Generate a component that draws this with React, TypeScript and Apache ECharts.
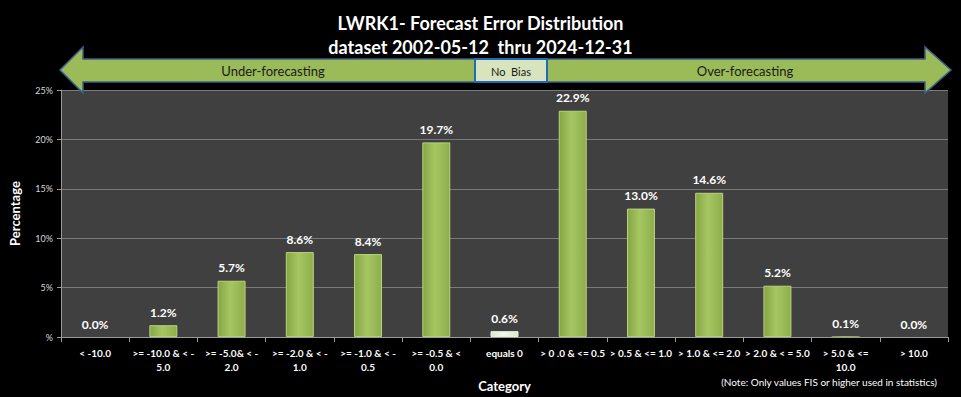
import React, { useEffect, useRef } from "react";
import * as echarts from "echarts";

const titleLines = ["LWRK1- Forecast Error Distribution", "dataset 2002-05-12  thru 2024-12-31"];
const categories = [
  "< -10.0",
  ">= -10.0 & < -\n5.0",
  ">= -5.0& < -\n2.0",
  ">= -2.0 & < -\n1.0",
  ">= -1.0 & < -\n0.5",
  ">= -0.5 & <\n0.0",
  "equals 0",
  "> 0 .0 & <= 0.5",
  "> 0.5 & <= 1.0",
  "> 1.0 & <= 2.0",
  "> 2.0 & < = 5.0",
  "> 5.0 & <=\n10.0",
  "> 10.0",
];
const percentages = [0.0, 1.2, 5.7, 8.6, 8.4, 19.7, 0.6, 22.9, 13.0, 14.6, 5.2, 0.1, 0.0];
const highlightCategory = "equals 0";
const arrowLabels = ["Under-forecasting", "No  Bias", "Over-forecasting"];
const noteText = "(Note: Only values FIS or higher used in statistics)";

const FONT = "Lato, 'Open Sans', sans-serif";

export default function App() {
  const ref = useRef<HTMLDivElement>(null);
  useEffect(() => {
    document.body.style.margin = "0";
    document.body.style.background = "#000";
    const chart = echarts.init(ref.current!, null, { renderer: "svg" });
    const green = new echarts.graphic.LinearGradient(0, 0, 1, 0, [
      { offset: 0, color: "#86a543" },
      { offset: 0.45, color: "#a6c662" },
      { offset: 1, color: "#8eae4c" },
    ]);
    const pale = new echarts.graphic.LinearGradient(0, 0, 1, 0, [
      { offset: 0, color: "#d9e3c6" },
      { offset: 0.45, color: "#f4f8ec" },
      { offset: 1, color: "#dce6ca" },
    ]);
    chart.setOption({
      animation: false,
      backgroundColor: "#000",
      title: {
        text: titleLines.join("\n"),
        left: "center",
        top: 11,
        padding: 0,
        textStyle: { color: "#fff", fontSize: 18, fontWeight: "bold", fontFamily: FONT, lineHeight: 24 },
      },
      grid: { left: 60, right: 13, top: 90, bottom: 56, backgroundColor: "#404040", show: true, borderWidth: 0 },
      xAxis: {
        type: "category",
        data: categories,
        name: "Category",
        nameLocation: "middle",
        nameGap: 39,
        nameTextStyle: { color: "#fff", fontSize: 13, fontWeight: "bold", fontFamily: FONT },
        axisLine: { lineStyle: { color: "#9a9a9a" } },
        axisTick: { show: true, length: 5, lineStyle: { color: "#9a9a9a" } },
        axisLabel: {
          color: "#fff",
          fontSize: 10,
          fontWeight: "bold",
          fontFamily: FONT,
          interval: 0,
          lineHeight: 14,
          margin: 9,
        },
      },
      yAxis: {
        type: "value",
        min: 0,
        max: 25,
        interval: 5,
        name: "Percentage",
        nameLocation: "middle",
        nameGap: 40,
        nameRotate: 90,
        nameTextStyle: { color: "#fff", fontSize: 13, fontWeight: "bold", fontFamily: FONT },
        axisLine: { show: true, lineStyle: { color: "#9a9a9a" } },
        axisTick: { show: true, length: 4, lineStyle: { color: "#9a9a9a" } },
        splitLine: { lineStyle: { color: "#7a7a7a", width: 1 } },
        axisLabel: {
          color: "#d8d8d8",
          fontSize: 9,
          fontFamily: FONT,
          margin: 8,
          formatter: (v: number) => (v === 0 ? "%" : v + "%"),
        },
      },
      series: [
        {
          type: "bar",
          barWidth: "41%",
          data: percentages.map((v, i) => ({
            value: v,
            itemStyle: {
              color: categories[i] === highlightCategory ? pale : green,
              borderColor: categories[i] === highlightCategory ? "#eef4e0" : "#b9d47e",
              borderWidth: v > 0.3 ? 1 : 0,
            },
          })),
          label: {
            show: true,
            position: "top",
            distance: 7,
            color: "#fff",
            fontSize: 12,
            fontWeight: "bold",
            fontFamily: FONT,
            formatter: (p: any) => Number(p.value).toFixed(1) + "%",
          },
        },
      ],
      graphic: [
        {
          type: "polygon",
          shape: {
            points: [
              [60, 70], [83, 47], [83, 59], [925, 59], [925, 47], [951, 70],
              [925, 93], [925, 82], [83, 82], [83, 93],
            ],
          },
          style: { fill: "#9bbb59", stroke: "#3b5f8a", lineWidth: 1.5 },
          z: 10,
        },
        {
          type: "rect",
          shape: { x: 475, y: 59, width: 72, height: 23 },
          style: { fill: "#d7e4bd", stroke: "#1f6bb8", lineWidth: 2 },
          z: 11,
        },
        {
          type: "text",
          x: 273, y: 71,
          style: { text: arrowLabels[0], fill: "#1a1a1a", fontSize: 13, fontFamily: FONT, align: "center", verticalAlign: "middle" },
          z: 12,
        },
        {
          type: "text",
          x: 511, y: 71,
          style: { text: arrowLabels[1], fill: "#1a1a1a", fontSize: 11, fontFamily: FONT, align: "center", verticalAlign: "middle" },
          z: 12,
        },
        {
          type: "text",
          x: 745, y: 71,
          style: { text: arrowLabels[2], fill: "#1a1a1a", fontSize: 13, fontFamily: FONT, align: "center", verticalAlign: "middle" },
          z: 12,
        },
        {
          type: "text",
          x: 937, y: 382,
          style: { text: noteText, fill: "#fff", fontSize: 10, fontFamily: FONT, align: "right", verticalAlign: "middle" },
          z: 12,
        },
      ],
    });
    return () => chart.dispose();
  }, []);
  return <div ref={ref} style={{ width: 961, height: 397 }} />;
}
